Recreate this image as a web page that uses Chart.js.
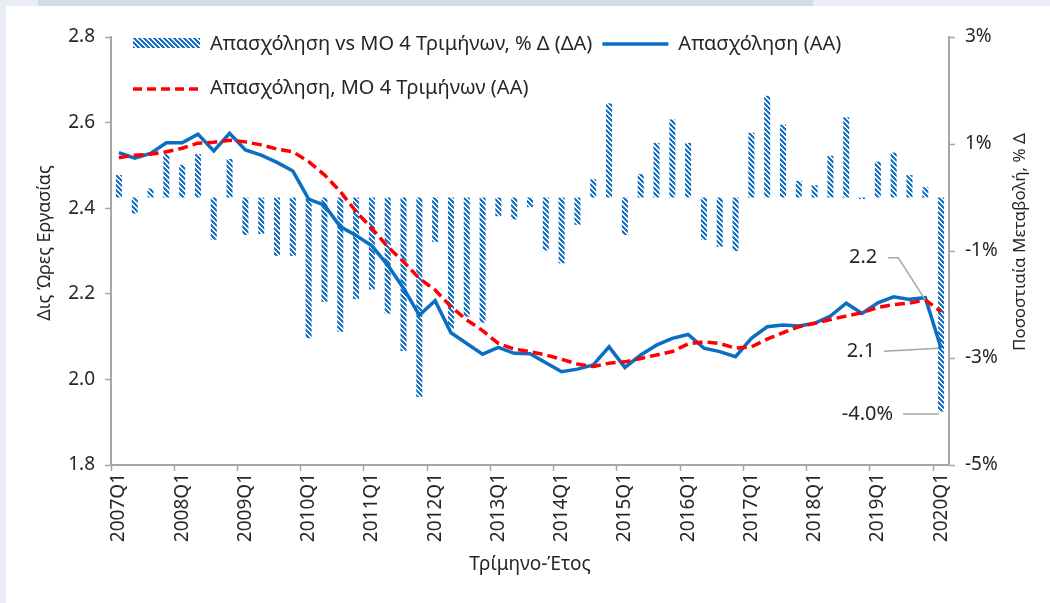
<!DOCTYPE html>
<html>
<head>
<meta charset="utf-8">
<script src="https://cdn.jsdelivr.net/npm/chart.js@4"></script>
<style>
  html, body { margin: 0; padding: 0; background: #fff; }
  #wrap { position: relative; width: 1050px; height: 603px; overflow: hidden; }
  .band { position: absolute; }
  canvas { position: absolute; left: 0; top: 0; }
</style>
</head>
<body>
<div id="wrap">
  <div class="band" style="left:0;top:0;width:1050px;height:6px;background:#e9edf6"></div>
  <div class="band" style="left:38px;top:0;width:775px;height:6px;background:#d4dbe4"></div>
  <div class="band" style="left:0;top:0;width:6px;height:603px;background:#e9edf6"></div>
  <canvas id="chart" width="1050" height="603"></canvas>
</div>
<script>
// quarters 2007Q1 .. 2020Q1
const quarters = [
  '2007Q1','2007Q2','2007Q3','2007Q4','2008Q1','2008Q2','2008Q3','2008Q4',
  '2009Q1','2009Q2','2009Q3','2009Q4','2010Q1','2010Q2','2010Q3','2010Q4',
  '2011Q1','2011Q2','2011Q3','2011Q4','2012Q1','2012Q2','2012Q3','2012Q4',
  '2013Q1','2013Q2','2013Q3','2013Q4','2014Q1','2014Q2','2014Q3','2014Q4',
  '2015Q1','2015Q2','2015Q3','2015Q4','2016Q1','2016Q2','2016Q3','2016Q4',
  '2017Q1','2017Q2','2017Q3','2017Q4','2018Q1','2018Q2','2018Q3','2018Q4',
  '2019Q1','2019Q2','2019Q3','2019Q4','2020Q1'
];

// Απασχόληση (ΑΑ), δις ώρες
const employment = [
  2.530, 2.517, 2.528, 2.553,  2.553, 2.573, 2.534, 2.575,
  2.536, 2.524, 2.507, 2.487,  2.421, 2.407, 2.357, 2.336,
  2.312, 2.267, 2.213, 2.150,  2.184, 2.109, 2.084, 2.059,
  2.075, 2.061, 2.060, 2.039,  2.018, 2.024, 2.034, 2.076,
  2.028, 2.057, 2.080, 2.096,  2.105, 2.073, 2.065, 2.053,
  2.096, 2.123, 2.127, 2.125,  2.131, 2.148, 2.178, 2.154,
  2.179, 2.193, 2.187, 2.191,  2.073
];

// Απασχόληση, ΜΟ 4 Τριμήνων (ΑΑ)
const movingAvg = [
  2.518, 2.524, 2.526, 2.532,  2.540, 2.552, 2.554, 2.559,
  2.555, 2.548, 2.538, 2.532,  2.509, 2.478, 2.439, 2.392,
  2.353, 2.310, 2.275, 2.236,  2.209, 2.170, 2.139, 2.114,
  2.084, 2.071, 2.065, 2.057,  2.047, 2.036, 2.030, 2.038,
  2.041, 2.049, 2.057, 2.065,  2.083, 2.088, 2.084, 2.073,
  2.076, 2.094, 2.109, 2.123,  2.131, 2.140, 2.148, 2.156,
  2.168, 2.175, 2.178, 2.186,  2.158
];

// Απασχόληση vs ΜΟ 4 Τριμήνων, % Δ (ΔΑ)
const pctDiff = [
  0.42, -0.30, 0.17, 0.81,   0.61, 0.81, -0.79, 0.72,
  -0.70, -0.68, -1.09, -1.09,  -2.63, -1.95, -2.51, -1.90,
  -1.72, -2.17, -2.87, -3.73,  -0.83, -2.45, -2.23, -2.34,
  -0.35, -0.41, -0.18, -0.99,  -1.23, -0.51, 0.34, 1.76,
  -0.70, 0.44, 1.02, 1.46,   1.02, -0.79, -0.92, -1.00,
  1.21, 1.90, 1.36, 0.31,    0.23, 0.78, 1.50, -0.03,
  0.67, 0.84, 0.42, 0.19,    -4.00
];

const leftTicks = [1.8, 2.0, 2.2, 2.4, 2.6, 2.8];
const rightTicks = [-5, -3, -1, 1, 3];

const FONT = "'Noto Sans', 'DejaVu Sans', sans-serif";
const TEXT = '#262626';
const AXIS = '#a6a6a6';
const BLUE = '#0a6fc2';
const RED = '#ff0000';

function stripes() {
    const c = document.createElement('canvas');
    c.width = 5; c.height = 5;
    const g = c.getContext('2d');
    g.fillStyle = '#ffffff';
    g.fillRect(0, 0, 5, 5);
    g.fillStyle = '#1a74c8';
    for (let y = 0; y < 5; y++) {
        for (let x = 0; x < 5; x++) {
            if ((x - y + 10) % 5 < 3) g.fillRect(x, y, 1, 1);
        }
    }
    return g.createPattern(c, 'repeat');
}
const barFill = stripes();

const overlay = {
    id: 'overlay',
    afterDraw(chart) {
        const ctx = chart.ctx;
        const xs = chart.scales.x, ys = chart.scales.y, ys1 = chart.scales.y1;
        ctx.save();

        // legend
        ctx.font = '20px ' + FONT;
        ctx.textBaseline = 'middle';
        ctx.textAlign = 'left';
        ctx.fillStyle = barFill;
        ctx.fillRect(133, 38, 67, 10);
        ctx.fillStyle = TEXT;
        const t1 = 'Απασχόληση vs ΜΟ 4 Τριμήνων, % Δ (ΔΑ)';
        ctx.fillText(t1, 210, 44);
        const sx = 210 + ctx.measureText(t1).width + 10;
        ctx.strokeStyle = BLUE;
        ctx.lineWidth = 3.5;
        ctx.beginPath(); ctx.moveTo(sx, 44); ctx.lineTo(sx + 66, 44); ctx.stroke();
        ctx.fillText('Απασχόληση (ΑΑ)', sx + 76, 44);

        ctx.strokeStyle = RED;
        ctx.setLineDash([9, 5]);
        ctx.beginPath(); ctx.moveTo(133, 89); ctx.lineTo(203, 89); ctx.stroke();
        ctx.setLineDash([]);
        ctx.fillText('Απασχόληση, ΜΟ 4 Τριμήνων (ΑΑ)', 210, 88);

        // axis titles
        ctx.font = '18px ' + FONT;
        ctx.textAlign = 'center';
        ctx.save();
        ctx.translate(45, 243); ctx.rotate(-Math.PI / 2);
        ctx.fillText('Δις Ώρες Εργασίας', 0, 0);
        ctx.restore();
        ctx.font = '17px ' + FONT;
        ctx.save();
        ctx.translate(1020, 242); ctx.rotate(-Math.PI / 2);
        ctx.fillText('Ποσοστιαία Μεταβολή, % Δ', 0, 0);
        ctx.restore();

        // data labels with leader lines
        const last = quarters.length - 1;
        ctx.font = '20px ' + FONT;
        ctx.textAlign = 'right';
        ctx.strokeStyle = AXIS;
        ctx.lineWidth = 1.5;

        const a = { x: xs.getPixelForValue(last - 1), y: ys.getPixelForValue(movingAvg[last - 1]) };
        ctx.fillText(movingAvg[last - 1].toFixed(1), a.x - 48, a.y - 42);
        ctx.beginPath(); ctx.moveTo(a.x - 37, a.y - 42); ctx.lineTo(a.x - 27, a.y - 42); ctx.lineTo(a.x, a.y); ctx.stroke();

        const b = { x: xs.getPixelForValue(last), y: ys.getPixelForValue(employment[last]) };
        ctx.fillText(employment[last].toFixed(1), b.x - 66, b.y + 3);
        ctx.beginPath(); ctx.moveTo(b.x - 57, b.y + 3); ctx.lineTo(b.x - 3, b.y); ctx.stroke();

        const c = { x: xs.getPixelForValue(last), y: ys1.getPixelForValue(pctDiff[last]) };
        ctx.fillText(pctDiff[last].toFixed(1) + '%', c.x - 48, c.y + 2.5);
        ctx.beginPath(); ctx.moveTo(c.x - 38, c.y + 2.5); ctx.lineTo(c.x - 2, c.y + 2.5); ctx.stroke();

        ctx.restore();
    }
};

const tickFont = { family: FONT, size: 19 };

new Chart(document.getElementById('chart').getContext('2d'), {
    type: 'bar',
    data: {
        labels: quarters,
        datasets: [
            {
                type: 'line',
                label: 'Απασχόληση, ΜΟ 4 Τριμήνων (ΑΑ)',
                data: movingAvg,
                yAxisID: 'y',
                borderColor: RED,
                borderWidth: 3.5,
                borderDash: [10, 5],
                pointRadius: 0,
                tension: 0,
                order: 0
            },
            {
                type: 'line',
                label: 'Απασχόληση (ΑΑ)',
                data: employment,
                yAxisID: 'y',
                borderColor: BLUE,
                borderWidth: 3.5,
                pointRadius: 0,
                tension: 0,
                order: 1
            },
            {
                type: 'bar',
                label: 'Απασχόληση vs ΜΟ 4 Τριμήνων, % Δ (ΔΑ)',
                data: pctDiff,
                yAxisID: 'y1',
                backgroundColor: barFill,
                borderWidth: 0,
                categoryPercentage: 1,
                barPercentage: 0.38,
                order: 2
            }
        ]
    },
    options: {
        responsive: false,
        animation: false,
        events: [],
        layout: { padding: { top: 37, left: 0, right: 0, bottom: 0 } },
        plugins: {
            legend: { display: false },
            tooltip: { enabled: false }
        },
        scales: {
            x: {
                grid: {
                    offset: true,
                    drawOnChartArea: false,
                    tickLength: 6,
                    tickWidth: 1.5,
                    tickColor: ctx => (ctx.index % 4 === 0 ? AXIS : 'rgba(0,0,0,0)')
                },
                border: { color: AXIS, width: 2 },
                ticks: {
                    autoSkip: false,
                    maxRotation: 90,
                    minRotation: 90,
                    padding: 2,
                    color: TEXT,
                    font: tickFont,
                    callback: (v, i) => (i % 4 === 0 ? quarters[i] : '')
                },
                title: {
                    display: true,
                    text: 'Τρίμηνο-Έτος',
                    color: TEXT,
                    font: { family: FONT, size: 19 },
                    padding: { top: 0, bottom: 27 }
                },
                afterFit: s => { s.height = 138; }
            },
            y: {
                position: 'left',
                min: 1.8,
                max: 2.8,
                afterBuildTicks: s => { s.ticks = leftTicks.map(v => ({ value: v })); },
                grid: { drawOnChartArea: false, tickLength: 6, tickWidth: 1.5, tickColor: AXIS },
                border: { color: AXIS, width: 2 },
                ticks: {
                    padding: 10,
                    color: TEXT,
                    font: tickFont,
                    callback: v => v.toFixed(1)
                },
                afterFit: s => { s.width = 111; }
            },
            y1: {
                position: 'right',
                min: -5,
                max: 3,
                afterBuildTicks: s => { s.ticks = rightTicks.map(v => ({ value: v })); },
                grid: { drawOnChartArea: false, tickLength: 6, tickWidth: 1.5, tickColor: AXIS },
                border: { color: AXIS, width: 2 },
                ticks: {
                    padding: 10,
                    color: TEXT,
                    font: tickFont,
                    callback: v => v + '%'
                },
                afterFit: s => { s.width = 101; }
            }
        }
    },
    plugins: [overlay]
});
</script>
</body>
</html>
